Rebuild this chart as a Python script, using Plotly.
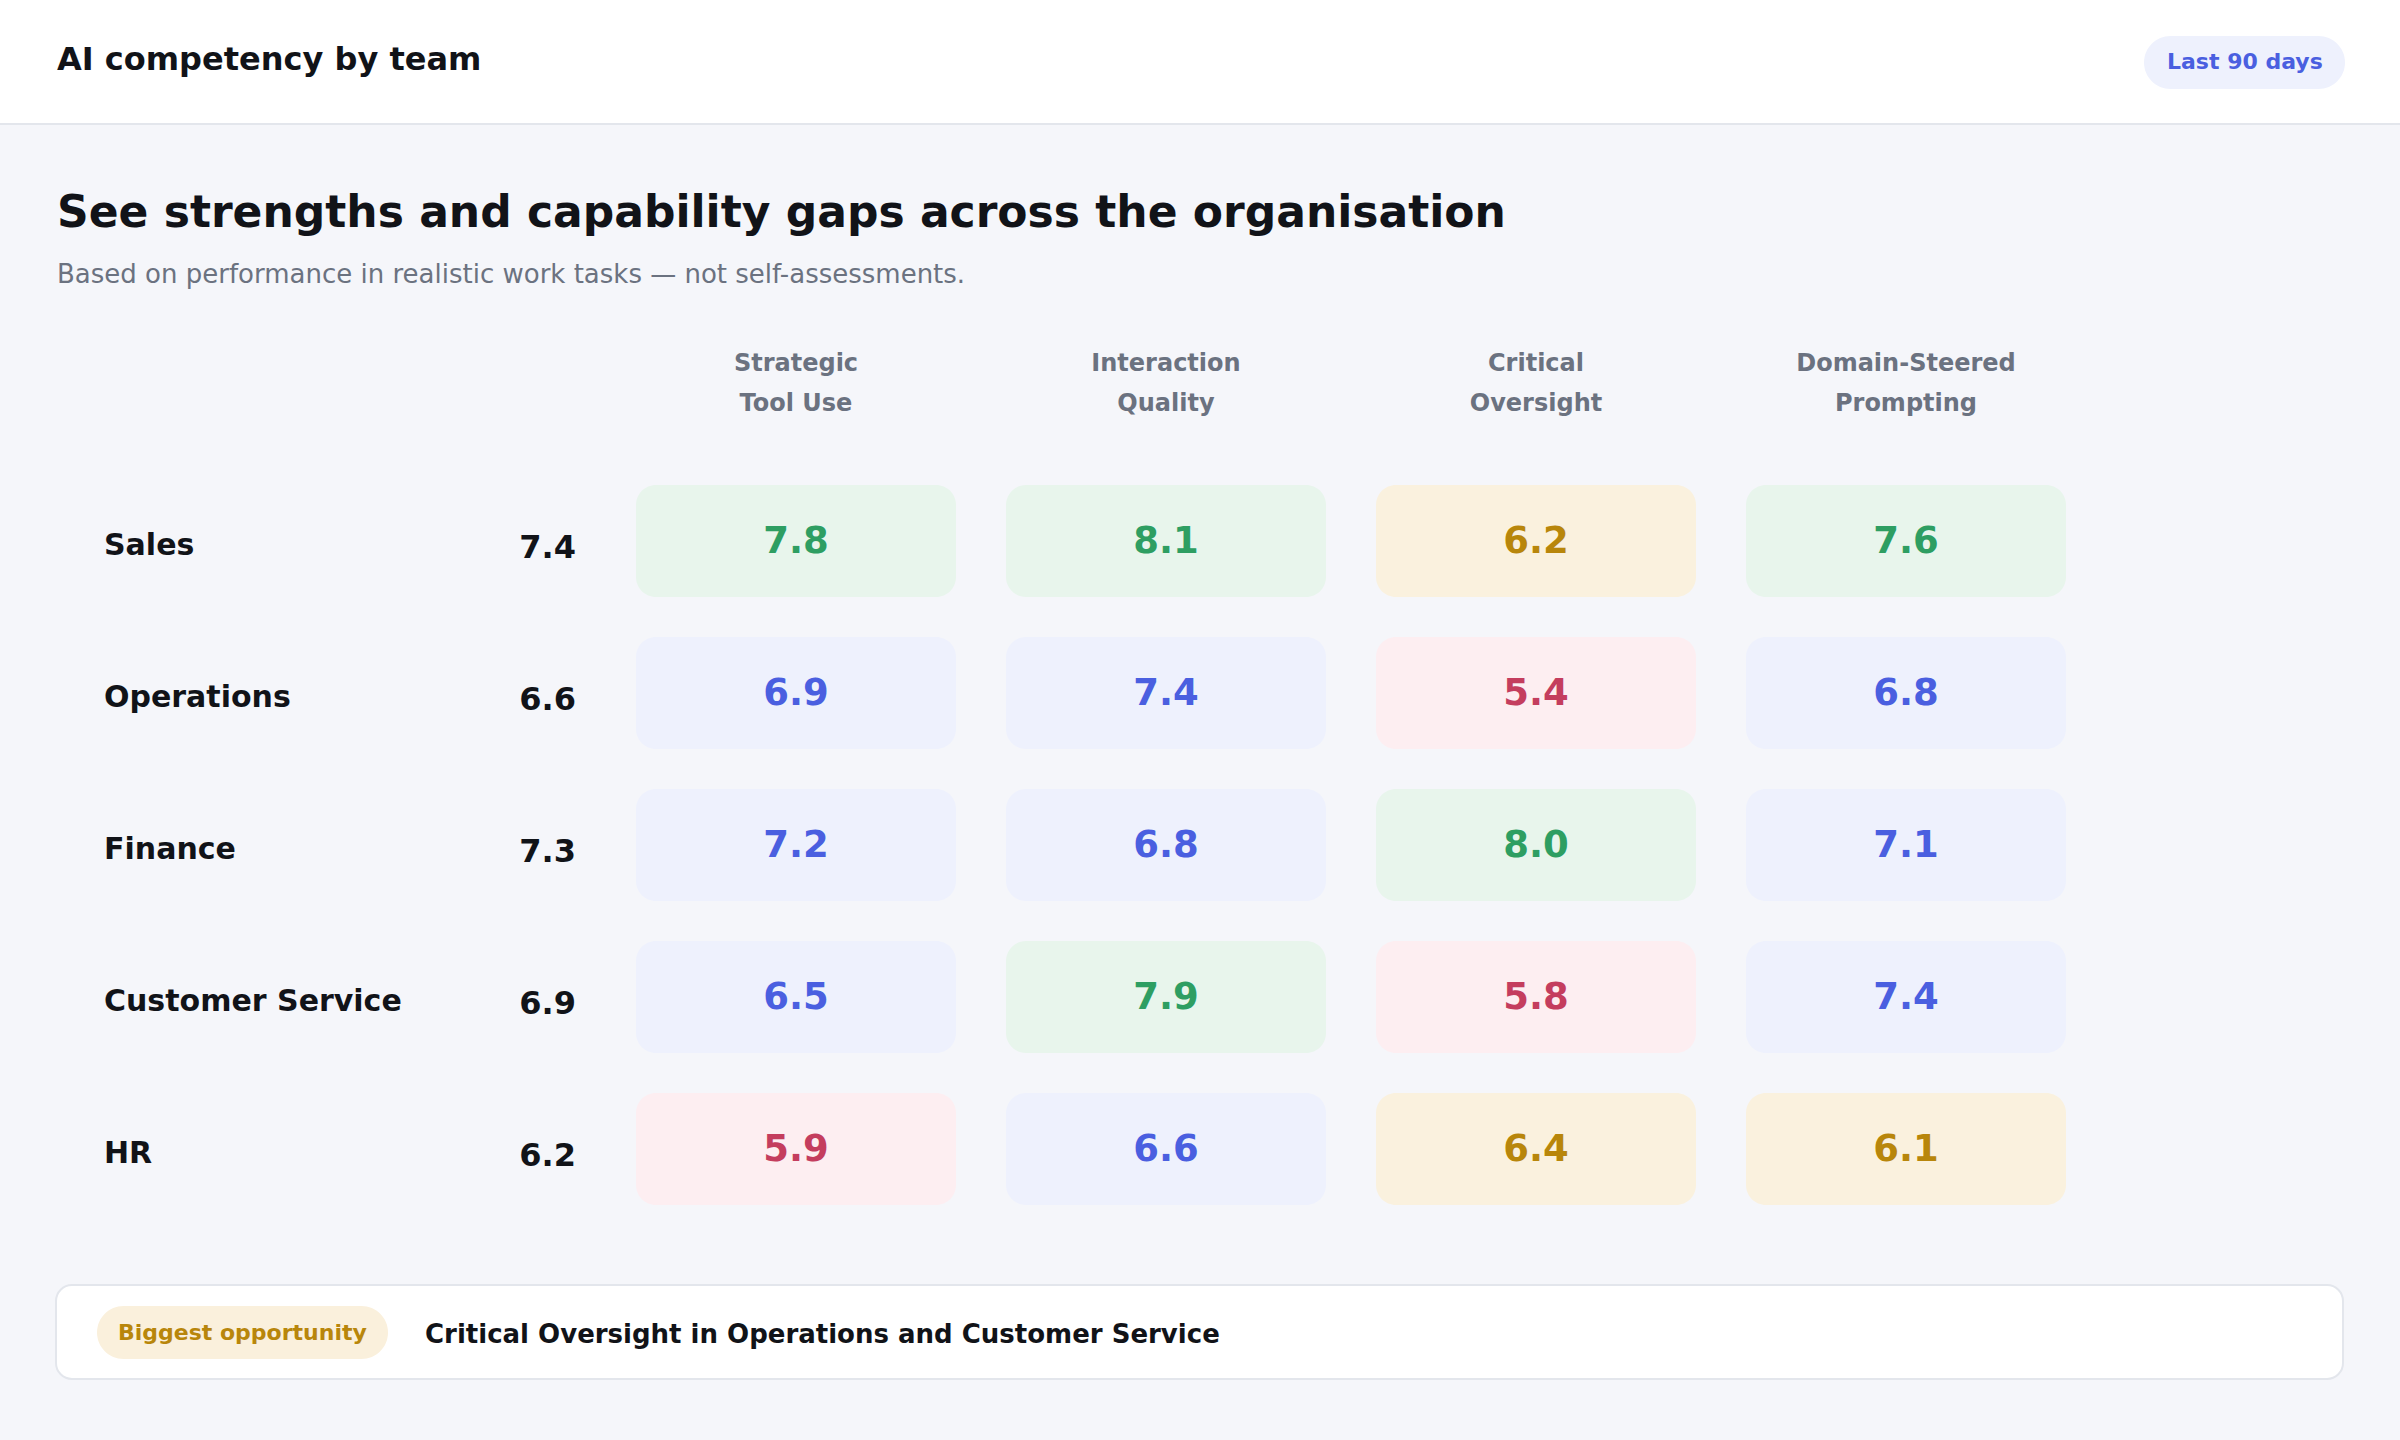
import plotly.graph_objects as go

# data
teams = ["Sales", "Operations", "Finance", "Customer Service", "HR"]
team_avg = [7.4, 6.6, 7.3, 6.9, 6.2]
skill_line1 = ["Strategic", "Interaction", "Critical", "Domain-Steered"]
skill_line2 = ["Tool Use", "Quality", "Oversight", "Prompting"]
scores = [
    [7.8, 8.1, 6.2, 7.6],
    [6.9, 7.4, 5.4, 6.8],
    [7.2, 6.8, 8.0, 7.1],
    [6.5, 7.9, 5.8, 7.4],
    [5.9, 6.6, 6.4, 6.1],
]

# score bands: (lower bound, text colour, fill colour)
bands = [
    (7.5, "#2e9e62", "#e8f5ec"),
    (6.5, "#4a5fe0", "#eef1fd"),
    (6.0, "#b8860b", "#faf1de"),
    (0.0, "#c43d5e", "#fdeef1"),
]

FONT = "DejaVu Sans"
DARK = "#111318"
GREY = "#6b7280"
BG = "#f5f6fa"

W, H = 2400, 1440
# grid geometry (pixels): first column/row centre and step
COL0, COL_STEP = 796, 370
ROW0, ROW_STEP = 541, 152
CELL_W, CELL_H, CELL_R = 320, 112, 20
LEFT = 55


def band(v):
    for lo, fg, bg in bands:
        if v >= lo:
            return fg, bg
    return bands[-1][1], bands[-1][2]


def xcol(p):
    return (p - COL0) / COL_STEP


def yrow(p):
    return (p - ROW0) / ROW_STEP


def rr_path(x0, y0, x1, y1, rx, ry):
    # rounded rectangle using cubic corners
    k = 0.5523
    return (
        f"M{x0 + rx},{y0} L{x1 - rx},{y0} "
        f"C{x1 - rx + k * rx},{y0} {x1},{y0 + ry - k * ry} {x1},{y0 + ry} "
        f"L{x1},{y1 - ry} "
        f"C{x1},{y1 - ry + k * ry} {x1 - rx + k * rx},{y1} {x1 - rx},{y1} "
        f"L{x0 + rx},{y1} "
        f"C{x0 + rx - k * rx},{y1} {x0},{y1 - ry + k * ry} {x0},{y1 - ry} "
        f"L{x0},{y0 + ry} "
        f"C{x0},{y0 + ry - k * ry} {x0 + rx - k * rx},{y0} {x0 + rx},{y0} Z"
    )


def paper_rr(px0, py0, px1, py1, r):
    return rr_path(px0 / W, 1 - py0 / H, px1 / W, 1 - py1 / H, r / W, -r / H)


fig = go.Figure()

shapes = []
# header bar
shapes.append(dict(type="rect", xref="paper", yref="paper", x0=0, x1=1,
                   y0=1 - 124 / H, y1=1, fillcolor="white", line_width=0, layer="below"))
shapes.append(dict(type="line", xref="paper", yref="paper", x0=0, x1=1,
                   y0=1 - 124 / H, y1=1 - 124 / H, line=dict(color="#e3e6ec", width=2)))
# "Last 90 days" pill
shapes.append(dict(type="path", xref="paper", yref="paper",
                   path=paper_rr(2144, 36, 2345, 89, 26.5),
                   fillcolor="#eef1fd", line_width=0))
# bottom card
shapes.append(dict(type="path", xref="paper", yref="paper",
                   path=paper_rr(56, 1285, 2343, 1379, 16),
                   fillcolor="white", line=dict(color="#e3e6ec", width=2)))
shapes.append(dict(type="path", xref="paper", yref="paper",
                   path=paper_rr(97, 1306, 388, 1359, 26.5),
                   fillcolor="#faf0dc", line_width=0))

# score cells
hx = CELL_W / 2 / COL_STEP
hy = CELL_H / 2 / ROW_STEP
rx = CELL_R / COL_STEP
ry = CELL_R / ROW_STEP
cell_x, cell_y, cell_txt, cell_col = [], [], [], []
for i, row in enumerate(scores):
    for j, v in enumerate(row):
        fg, bg = band(v)
        shapes.append(dict(type="path", xref="x", yref="y",
                           path=rr_path(j - hx, i - hy, j + hx, i + hy, rx, ry),
                           fillcolor=bg, line_width=0, layer="below"))
        cell_x.append(j)
        cell_y.append(i + 0.02)
        cell_txt.append(f"{v:.1f}")
        cell_col.append(fg)

fig.add_trace(go.Scatter(
    x=cell_x, y=cell_y, mode="text", text=cell_txt, textposition="middle center",
    textfont=dict(family=FONT, size=37, color=cell_col, weight=700),
    hoverinfo="skip", showlegend=False))

# team names and averages
fig.add_trace(go.Scatter(
    x=[xcol(104)] * len(teams), y=[i + 0.04 for i in range(len(teams))], mode="text",
    text=teams, textposition="middle right",
    textfont=dict(family=FONT, size=30, color=DARK, weight=700),
    hoverinfo="skip", showlegend=False))
fig.add_trace(go.Scatter(
    x=[xcol(576)] * len(teams), y=[i + 0.06 for i in range(len(teams))], mode="text",
    text=[f"{v:.1f}" for v in team_avg], textposition="middle left",
    textfont=dict(family=FONT, size=32, color=DARK, weight=700),
    hoverinfo="skip", showlegend=False))

# column headers
for line, ypx in ((skill_line1, 365), (skill_line2, 405)):
    fig.add_trace(go.Scatter(
        x=list(range(len(line))), y=[yrow(ypx)] * len(line), mode="text",
        text=line, textposition="middle center",
        textfont=dict(family=FONT, size=24, color=GREY, weight=700),
        hoverinfo="skip", showlegend=False))

annotations = [
    dict(text="AI competency by team", x=LEFT / W, y=1 - 59 / H,
         font=dict(family=FONT, size=32, color=DARK, weight=700)),
    dict(text="See strengths and capability gaps across the organisation", x=LEFT / W, y=1 - 211 / H,
         font=dict(family=FONT, size=44, color=DARK, weight=700)),
    dict(text="Based on performance in realistic work tasks — not self-assessments.", x=LEFT / W, y=1 - 274 / H,
         font=dict(family=FONT, size=26, color=GREY)),
    dict(text="Last 90 days", x=2244.5 / W, y=1 - 62 / H, xanchor="center",
         font=dict(family=FONT, size=22, color="#4a5fe0", weight=700)),
    dict(text="Biggest opportunity", x=242 / W, y=1 - 1332 / H, xanchor="center",
         font=dict(family=FONT, size=22, color="#b8860b", weight=700)),
    dict(text="Critical Oversight in Operations and Customer Service", x=423 / W, y=1 - 1334 / H,
         font=dict(family=FONT, size=26, color=DARK, weight=700)),
]
for a in annotations:
    a.setdefault("xanchor", "left")
    a.update(xref="paper", yref="paper", yanchor="middle", showarrow=False)

fig.update_layout(
    width=W, height=H,
    margin=dict(l=0, r=0, t=0, b=0),
    paper_bgcolor=BG, plot_bgcolor=BG,
    shapes=shapes, annotations=annotations,
    xaxis=dict(range=[xcol(0), xcol(W)], visible=False, fixedrange=True),
    yaxis=dict(range=[yrow(H), yrow(0)], visible=False, fixedrange=True),
    showlegend=False,
)

fig.write_html("out.html", config={"displayModeBar": False},
               post_script="document.body.style.margin='0';")
